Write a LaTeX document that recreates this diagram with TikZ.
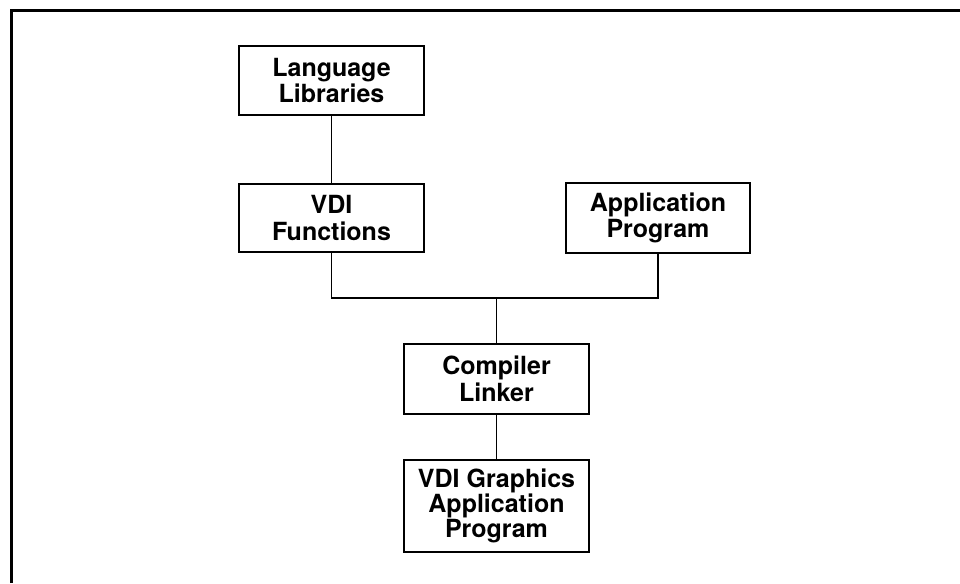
\documentclass[tikz,border=0pt]{standalone}
\usepackage{fontspec}
\setmainfont{TeX Gyre Heros}
\begin{document}
\begin{tikzpicture}[x=1pt,y=-1pt,
  blk/.style={draw,line width=1.8pt,minimum width=185pt,align=center,
    font=\fontsize{25}{26.5}\selectfont\bfseries,inner sep=0pt},
  wire/.style={line width=1.3pt}]
\useasboundingbox (0,0) rectangle (960,583);
% open frame: top and left edges only
\draw[line width=3pt] (11,583) -- (11,11) -- (960,11);
\node[blk,minimum height=69pt] (lang) at (331.5,80.5) {Language\\Libraries};
\node[blk,minimum height=68pt] (vdi) at (331.5,218) {VDI\\Functions};
\node[blk,minimum height=70pt,minimum width=184pt] (app) at (658,218) {Application\\Program};
\node[blk,minimum height=70pt] (comp) at (496.5,379) {Compiler\\Linker};
\node[blk,minimum height=92pt,font=\fontsize{25}{23.5}\selectfont\bfseries] (gfx) at (496.5,506) {VDI Graphics\\Application\\Program};
\coordinate (j) at (496.5,298);
\draw[wire] (lang) -- (vdi);
\draw[wire] (vdi.south) -- (vdi.south |- j) -- (app.south |- j) -- (app.south);
\draw[wire] (j) -- (comp.north);
\draw[wire] (comp) -- (gfx);
\end{tikzpicture}
\end{document}
